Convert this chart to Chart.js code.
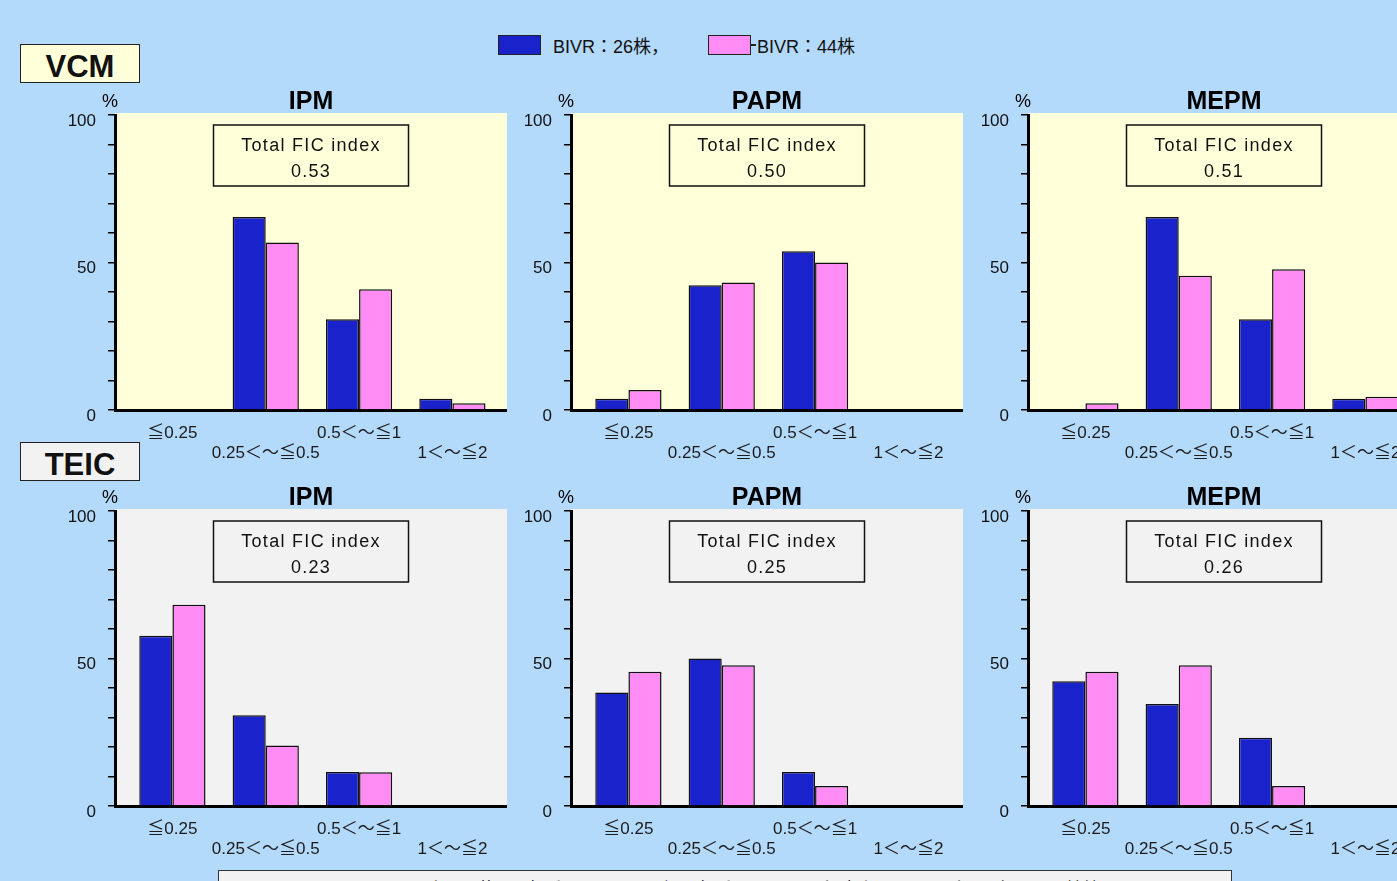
<!DOCTYPE html>
<html>
<head>
<meta charset="utf-8">
<script src="https://cdn.jsdelivr.net/npm/chart.js@4.4.1/dist/chart.umd.min.js"></script>
<style>
body { margin: 0; width: 1397px; height: 881px; overflow: hidden; background: #b3d9fb; position: relative;
       font-family: 'Liberation Sans', 'Noto Sans CJK JP', sans-serif; color: #111; }
canvas { position: absolute; }
.tag { position: absolute; left: 20px; width: 120px; height: 39px; box-sizing: border-box; border: 1.5px solid #222;
       font-weight: bold; font-size: 31px; text-align: center; line-height: 44px; overflow: hidden; }
.legItem { position: absolute; top: 35px; height: 20px; display: flex; align-items: center; font-size: 18px; }
.legBox { width: 43px; height: 20px; box-sizing: border-box; border: 1.5px solid #222; }
#note { position: absolute; left: 218px; top: 870px; width: 1014px; height: 40px; box-sizing: border-box;
        border: 1.5px solid #333; background: #f2f2f2; font-size: 17px; text-align: center; padding-top: 4px; }
</style>
</head>
<body>

<script>
const FONT = "'Liberation Sans', 'Noto Sans CJK JP', sans-serif";

const categories = ['≦0.25', '0.25＜～≦0.5', '0.5＜～≦1', '1＜～≦2'];
const seriesNames = ['BIVR：26株，', 'BIVR：44株'];
const seriesColors = ['#1a22cc', '#ff8cf5'];
const drugs = ['IPM', 'PAPM', 'MEPM'];
const groups = ['VCM', 'TEIC'];
const yTicks = [0, 10, 20, 30, 40, 50, 60, 70, 80, 90, 100];

const vcmFic = [0.53, 0.50, 0.51];
const teicFic = [0.23, 0.25, 0.26];

// % of strains in each FIC index class
const vcmIpm26 = [0, 65.4, 30.8, 3.8];
const vcmIpm44 = [0, 56.8, 40.9, 2.3];
const vcmPapm26 = [3.8, 42.3, 53.8, 0];
const vcmPapm44 = [6.8, 43.2, 50.0, 0];
const vcmMepm26 = [0, 65.4, 30.8, 3.8];
const vcmMepm44 = [2.3, 45.5, 47.7, 4.5];

const teicIpm26 = [57.7, 30.8, 11.5, 0];
const teicIpm44 = [68.2, 20.5, 11.4, 0];
const teicPapm26 = [38.5, 50.0, 11.5, 0];
const teicPapm44 = [45.5, 47.7, 6.8, 0];
const teicMepm26 = [42.3, 34.6, 23.1, 0];
const teicMepm44 = [45.5, 47.7, 6.8, 0];

const noteText = 'FIC index ≦0.25(著しい相乗)，0.25＜～≦0.5(相乗)，0.5＜～≦1(相加)，1＜～≦2(不変)，2＜(拮抗)';

const panelLefts = [40, 496, 953];
const rowTops = [80, 476];
const rowFills = ['#ffffd9', '#f2f2f2'];

const panelDecor = {
    id: 'panelDecor',
    beforeDraw(chart, args, opts) {
        const {ctx, chartArea: a} = chart;
        ctx.save();
        ctx.fillStyle = opts.fill;
        ctx.fillRect(a.left, a.top - 2, a.right - a.left, a.bottom - a.top + 2);
        ctx.restore();
    },
    afterDraw(chart, args, opts) {
        const {ctx, chartArea: a} = chart;
        const cx = (a.left + a.right) / 2;
        ctx.save();
        ctx.fillStyle = '#000';
        ctx.textAlign = 'center';
        ctx.textBaseline = 'middle';
        ctx.font = 'bold 25px ' + FONT;
        ctx.fillText(opts.title, cx, a.top - 13);
        ctx.font = '18px ' + FONT;
        ctx.fillText('%', a.left - 5, a.top - 13);

        // Total FIC index box
        const bw = 195, bh = 61, bx = cx - bw / 2, by = a.top + 10;
        ctx.fillStyle = opts.fill;
        ctx.fillRect(bx, by, bw, bh);
        ctx.strokeStyle = '#111';
        ctx.lineWidth = 1.5;
        ctx.strokeRect(bx, by, bw, bh);
        ctx.fillStyle = '#111';
        ctx.font = '18px ' + FONT;
        ctx.letterSpacing = '1.3px';
        ctx.fillText('Total FIC index', cx, by + 21);
        ctx.fillText(opts.fic.toFixed(2), cx, by + 47);
        ctx.restore();
    }
};

function makeChart(left, top, d26, d44, drug, fic, fill) {
    const canvas = document.createElement('canvas');
    canvas.width = 467;
    canvas.height = 385;
    canvas.style.left = left + 'px';
    canvas.style.top = top + 'px';
    document.body.appendChild(canvas);

    const series = [d26, d44];
    return new Chart(canvas, {
        type: 'bar',
        data: {
            datasets: series.map((vals, k) => ({
                label: seriesNames[k],
                data: vals.map((v, i) => ({x: i, y: v})),
                backgroundColor: seriesColors[k],
                borderColor: '#111',
                borderWidth: 1.5,
                categoryPercentage: 0.71,
                barPercentage: 1
            }))
        },
        options: {
            responsive: false,
            animation: false,
            devicePixelRatio: 1,
            layout: {padding: {top: 35, left: 0, right: 0, bottom: 0}},
            plugins: {
                legend: {display: false},
                tooltip: {enabled: false},
                panelDecor: {title: drug, fic: fic, fill: fill}
            },
            scales: {
                x: {
                    type: 'linear',
                    offset: false,
                    min: -0.615,
                    max: 3.585,
                    afterBuildTicks: s => { s.ticks = categories.map((c, i) => ({value: i})); },
                    afterFit: s => { s.height = 55; },
                    grid: {display: false},
                    border: {display: true, width: 3, color: '#000'},
                    ticks: {
                        autoSkip: false,
                        maxRotation: 0,
                        minRotation: 0,
                        padding: 5,
                        color: '#1a1a1a',
                        font: {size: 17, family: FONT, lineHeight: 1.18},
                        callback: (v, i) => i % 2 ? ['', categories[i]] : [categories[i], '']
                    }
                },
                y: {
                    min: 0,
                    max: 100,
                    afterBuildTicks: s => { s.ticks = yTicks.map(v => ({value: v})); },
                    afterFit: s => { s.width = 75; },
                    grid: {drawOnChartArea: false, drawTicks: true, tickLength: 7, color: '#000', lineWidth: 1.5},
                    border: {display: true, width: 3, color: '#000'},
                    ticks: {
                        autoSkip: false,
                        padding: 12,
                        labelOffset: 6,
                        color: '#111',
                        font: {size: 17, family: FONT},
                        callback: v => v % 50 === 0 ? String(v) : ''
                    }
                }
            }
        },
        plugins: [panelDecor]
    });
}

const rows = [
    {fic: vcmFic, data: [[vcmIpm26, vcmIpm44], [vcmPapm26, vcmPapm44], [vcmMepm26, vcmMepm44]]},
    {fic: teicFic, data: [[teicIpm26, teicIpm44], [teicPapm26, teicPapm44], [teicMepm26, teicMepm44]]}
];

rows.forEach((row, r) => {
    drugs.forEach((drug, c) => {
        makeChart(panelLefts[c], rowTops[r], row.data[c][0], row.data[c][1], drug, row.fic[c], rowFills[r]);
    });
});

// group tags
groups.forEach((g, r) => {
    const div = document.createElement('div');
    div.className = 'tag';
    div.textContent = g;
    div.style.top = (r === 0 ? 44 : 442) + 'px';
    div.style.background = r === 0 ? '#ffffd9' : '#f2f2f2';
    document.body.appendChild(div);
});

// legend
const legendX = [498, 708];
seriesNames.forEach((name, k) => {
    const item = document.createElement('div');
    item.className = 'legItem';
    item.style.left = legendX[k] + 'px';
    const box = document.createElement('div');
    box.className = 'legBox';
    box.style.background = seriesColors[k];
    item.appendChild(box);
    if (k === 1) {
        const dash = document.createElement('div');
        dash.style.cssText = 'width:5px;height:1.5px;background:#222;margin-right:1px';
        item.appendChild(dash);
    }
    const txt = document.createElement('span');
    txt.textContent = name;
    txt.style.marginLeft = k === 0 ? '12px' : '0px';
    item.appendChild(txt);
    document.body.appendChild(item);
});

const note = document.createElement('div');
note.id = 'note';
note.textContent = noteText;
document.body.appendChild(note);
</script>
</body>
</html>
